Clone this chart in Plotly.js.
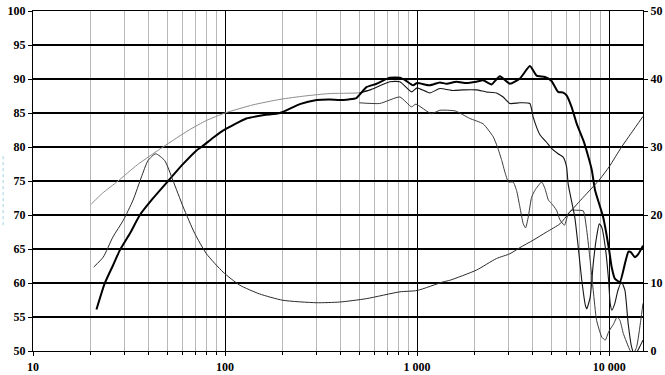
<!DOCTYPE html>
<html>
<head>
<meta charset="utf-8">
<script src="https://cdn.plot.ly/plotly-3.0.1.min.js"></script>
<style>html,body{margin:0;padding:0;background:#fff;}#chart{width:665px;height:375px;}</style>
</head>
<body>
<div id="chart"></div>
<script>
// Main on-axis SPL (thick)
const mainFreq = [21.4,23.6,26,28.3,32,36,42,50.5,60,71,75.3,87,99.5,129,160,193,245,300,351,395,440,483,545,615,721,813,870,953,1000,1164,1313,1422,1603,1807,2037,2207,2440,2697,3041,3427,3864,4187,4355,4630,5010,5420,5760,6000,6370,6780,7330,7800,8120,8450,9300,10000,10300,10700,11370,12080,12600,13000,13600,14200,15000];
const mainDb   = [56.1,59.9,62.5,64.8,67.3,70.0,72.4,75.0,77.4,79.5,80.0,81.4,82.55,84.2,84.7,85.0,86.3,86.9,87.0,86.9,87.0,87.2,88.8,89.3,90.2,90.2,89.8,89.07,89.4,89.07,89.5,89.3,89.6,89.4,89.6,89.8,89.2,90.4,89.3,90.06,91.9,90.5,90.4,90.3,89.7,88.1,88.0,87.6,85.9,83.4,81.0,78.5,76.6,73.6,69.7,64.8,62.35,60.65,60.15,62.85,64.6,64.5,63.8,64.3,65.5];

// Smooth simulated low-frequency response (gray)
const simFreq = [20.1,23,27.7,35,47.5,65,80,100,140,193,260,351,420,500];
const simDb   = [71.6,73.2,75.0,77.4,80.0,82.5,83.9,85.0,86.2,87.0,87.5,87.86,87.9,87.95];

// Off-axis response 1 (thin)
const off1Freq = [500,569,721,813,935,1000,1164,1313,1540,1738,2037,2290,2590,2805,3041,3427,3864,4020,4360,4720,5010,5420,5760,6000,6120,6620,6900,7200,7520,7640,7960,8260,8600,8880,9150,9540,9930,10120,10330,10700,11100,11600,12080,12560,13080,13600,14400,15000];
const off1Db   = [87.95,88.4,89.6,89.6,88.1,88.7,87.95,88.6,88.3,88.4,88.4,88.1,87.95,87.35,86.4,86.5,86.4,84.4,81.8,80.7,79.8,79.0,78.5,77.06,74.5,69.7,65.3,60.4,56.7,56.2,57.9,62.85,66.8,68.7,68.2,65.3,60.4,57.0,56.0,57.0,58.9,60.15,58.9,54.0,50.6,49.4,50.6,51.6];

// Off-axis response 2 (thin, lower)
const off2Freq = [500,639,813,935,985,1185,1313,1580,1880,2207,2490,2620,2760,2865,2990,3160,3295,3427,3570,3670,3790,3945,4100,4450,4630,4825,5010,5320,5540,5850,6120,6370,6780,7330,7640,7960,8260,8600,9150,9540,9930,10550,11000,11380,11840,12830,13300,13900,14600,15000];
const off2Db   = [86.5,86.4,87.35,85.9,86.3,84.9,85.4,85.3,84.2,83.4,81.5,80.0,78.0,76.3,74.85,74.85,73.6,71.2,68.7,68.1,69.7,72.6,73.6,74.85,73.9,72.2,71.7,70.7,69.3,68.5,70.2,70.7,70.7,70.6,67.75,63.3,58.9,54.5,52.06,51.6,52.8,54.0,55.0,54.5,52.6,50.1,49.5,50.6,54.5,57.0];

// Impedance (ohm, right axis)
const impFreq = [20.7,23.2,26.1,29.5,33.2,36.7,39.7,43.5,48.5,53.5,60.5,69.5,80,97.7,119,151,200,299,395,545,813,1000,1360,1480,2037,2590,3040,3427,4020,4720,5540,6230,7330,8960,10000,11600,13000,15000];
const impOhm  = [12.35,13.8,16.8,19.2,22.2,25.6,28.0,29.0,28.0,25.1,21.2,17.3,14.3,11.6,9.7,8.4,7.46,7.1,7.2,7.7,8.7,8.9,10.15,10.4,11.9,13.6,14.3,15.2,16.3,17.5,18.7,20.4,22.6,25.3,27.1,30.0,32.0,34.5];

const splTicks = [50,55,60,65,70,75,80,85,90,95,100];
const ohmTicks = [0,10,20,30,40,50];

const tickFont = {family:'"Liberation Serif", "Times New Roman", serif', size:12, color:'#000', weight:'bold'};

const traces = [
  {x: simFreq, y: simDb, mode:'lines', line:{color:'#8c8c8c', width:1, shape:'spline', smoothing:0.6}, hoverinfo:'skip'},
  {x: impFreq, y: impOhm, yaxis:'y2', mode:'lines', line:{color:'#2a2a2a', width:1, shape:'spline', smoothing:0.6}, hoverinfo:'skip'},
  {x: off2Freq, y: off2Db, mode:'lines', line:{color:'#3a3a3a', width:1, shape:'spline', smoothing:0.5}, hoverinfo:'skip'},
  {x: off1Freq, y: off1Db, mode:'lines', line:{color:'#151515', width:1.1, shape:'spline', smoothing:0.5}, hoverinfo:'skip'},
  {x: mainFreq, y: mainDb, mode:'lines', line:{color:'#000', width:2, shape:'spline', smoothing:0.5}, hoverinfo:'skip'}
];

const layout = {
  width:665, height:375,
  margin:{l:33, r:22, t:11, b:24, pad:0},
  paper_bgcolor:'#fff', plot_bgcolor:'#fff',
  showlegend:false,
  separators:'. ',
  xaxis:{
    type:'log', range:[1, Math.log10(15000)],
    dtick:1, tickformat:',',
    showgrid:true, gridcolor:'#000', gridwidth:1,
    minor:{dtick:'D1', showgrid:true, gridcolor:'#b8b8b8', gridwidth:1, ticks:'outside', ticklen:3, tickcolor:'#000'},
    showline:true, linecolor:'#000', linewidth:1.2, mirror:true,
    ticks:'outside', ticklen:4, tickcolor:'#000',
    tickfont:tickFont, zeroline:false, fixedrange:true
  },
  yaxis:{
    range:[50,100], tickvals:splTicks,
    showgrid:true, gridcolor:'#000', gridwidth:1.5,
    showline:true, linecolor:'#000', linewidth:1.2, mirror:false,
    ticks:'outside', ticklen:4, tickcolor:'#000',
    tickfont:tickFont, zeroline:false, fixedrange:true
  },
  yaxis2:{
    overlaying:'y', side:'right', range:[0,50], tickvals:ohmTicks,
    showgrid:false, showline:true, linecolor:'#000', linewidth:1.2,
    ticks:'outside', ticklen:4, tickcolor:'#000',
    tickfont:tickFont, zeroline:false, fixedrange:true
  },
  shapes:[
    {type:'line', xref:'paper', yref:'paper', x0:-0.049, x1:-0.049, y0:0.37, y1:0.575,
     line:{color:'#9fd2e0', width:1, dash:'dot'}}
  ]
};

Plotly.newPlot('chart', traces, layout, {staticPlot:true, displayModeBar:false});
</script>
</body>
</html>
